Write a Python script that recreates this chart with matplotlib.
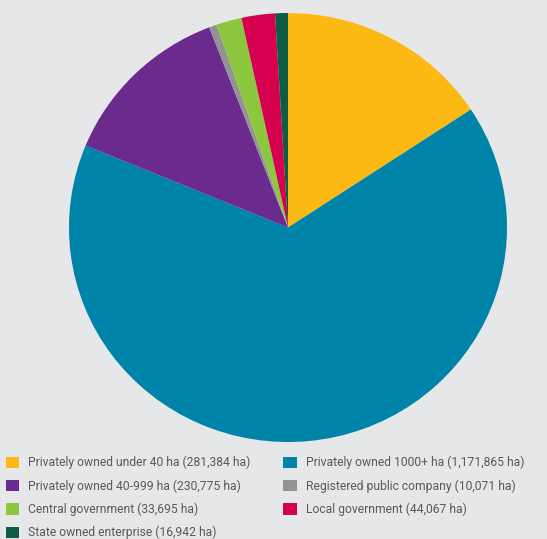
import matplotlib.pyplot as plt
from matplotlib.patches import Patch

# 토지 소유 구분 데이터
labels = [
    "Privately owned under 40 ha (281,384 ha)",
    "Privately owned 1000+ ha (1,171,865 ha)",
    "Privately owned 40-999 ha (230,775 ha)",
    "Registered public company (10,071 ha)",
    "Central government (33,695 ha)",
    "Local government (44,067 ha)",
    "State owned enterprise (16,942 ha)",
]
hectares = [281384, 1171865, 230775, 10071, 33695, 44067, 16942]
colors = ["#FDB913", "#0083A9", "#6B2A8E", "#939393", "#8DC63F", "#D5004F", "#0D5C45"]

bg = "#E6E7E8"
fig = plt.figure(figsize=(5.47, 5.39), dpi=100, facecolor=bg)

# 파이 차트 영역 (원본이 약간 세로로 눌려 있음)
rx, ry = 219, 214.5
cx, cy = 288, 227.5
ax = fig.add_axes([(cx - rx) / 547, (539 - cy - ry) / 539, 2 * rx / 547, 2 * ry / 539])
ax.set_facecolor(bg)
ax.pie(hectares, colors=colors, startangle=90, counterclock=False,
       wedgeprops=dict(linewidth=0))
ax.set_xlim(-1, 1)
ax.set_ylim(-1, 1)
ax.set_aspect("auto")
ax.axis("off")

# 범례 (행 순서대로 보이도록 재배열)
order = [0, 2, 4, 6, 1, 3, 5]
handles = [Patch(facecolor=colors[i], edgecolor="none") for i in order]
leg = fig.legend(handles, [labels[i] for i in order], ncol=2,
                 loc="upper left", bbox_to_anchor=(6 / 547, 1 - 456 / 539),
                 frameon=False, handlelength=1.1, handleheight=1.1,
                 handletextpad=0.75, columnspacing=2.7, labelspacing=0.82,
                 borderaxespad=0, borderpad=0,
                 prop={"family": ["Roboto", "DejaVu Sans"], "size": 8.7})
for t in leg.get_texts():
    t.set_color("#58595B")

fig.savefig("out.png", dpi=100, facecolor=bg)
